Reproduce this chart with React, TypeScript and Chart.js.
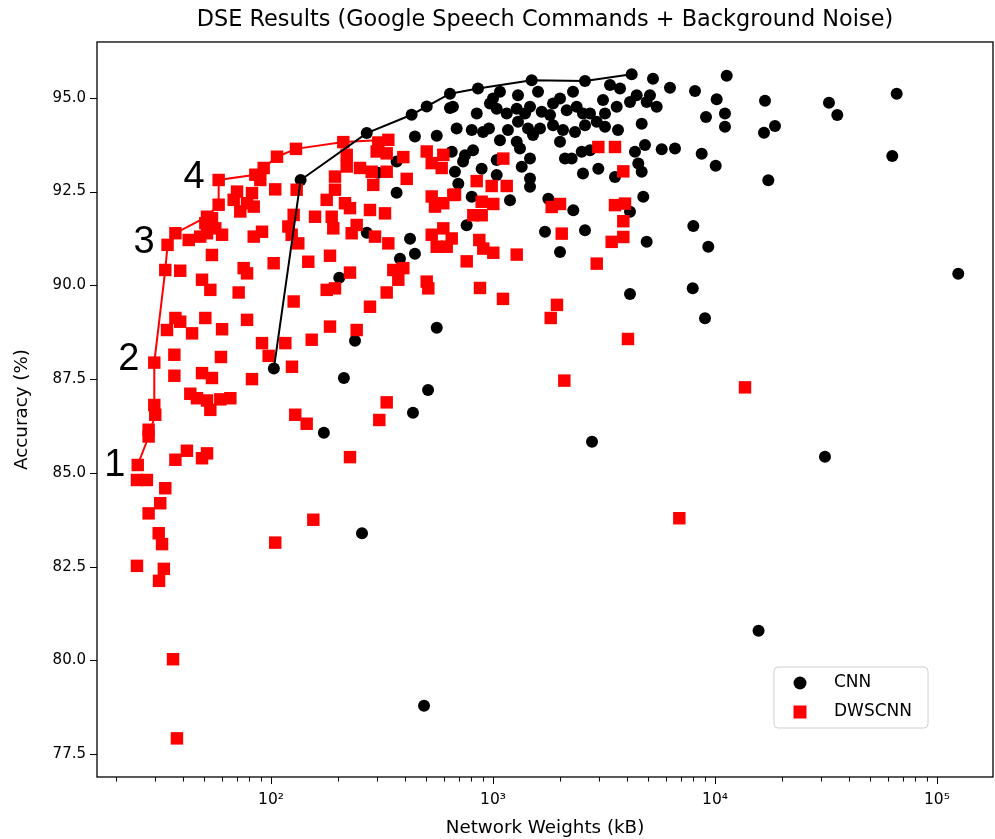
import React, { useEffect, useRef } from 'react';
import { Chart, registerables } from 'chart.js';

Chart.register(...registerables);

// ---- CNN (black circles) ----
const cnnWeights = [
  103, 136, 270, 430, 640, 856, 1494, 2597, 4215, 5257,
  6271, 8128, 11291, 10178, 16801, 32620, 65834, 35557, 9110, 11092,
  11092, 18634, 16627, 5754, 6605, 8711, 10074, 17384, 62889, 7987,
  9329, 7937, 9016, 124700, 31295, 15715,
  1075, 1000, 1296, 1595, 2004, 2293, 3365, 3734, 4439, 5095,
  4923, 5463, 4141, 3608, 3130, 2735, 3196, 2543, 2382, 2148,
  1864, 1807, 1657, 1468, 1394, 1279, 1153, 1039, 969, 845,
  660, 686, 802, 902, 959, 1168, 1296, 1438, 1628, 1864,
  2067, 2341, 2597, 2933, 3196, 3657, 4675, 1075, 1279, 1514,
  2004, 652, 748, 813, 1039, 1323, 1468, 1347, 2110, 2262,
  2509, 2735, 4361, 4838, 4514, 4675, 674, 889, 1039, 698,
  2543, 2982, 3544, 1468, 1468, 802, 1193, 1775, 2300, 4141,
  4753, 761, 1715, 2597, 2004, 4923, 4141,
  503, 640, 558, 445, 733, 368, 368, 270, 423, 445,
  381, 203, 558, 239, 303, 213, 510, 436, 173, 257,
  489, 2793,
];
const cnnAccuracy = [
  87.78, 92.81, 94.06, 94.55, 95.11, 95.25, 95.47, 95.45, 95.63, 95.51,
  95.27, 95.18, 95.59, 94.96, 94.92, 94.87, 95.11, 94.54, 94.49, 94.58,
  94.23, 94.25, 94.07, 93.63, 93.65, 93.51, 93.19, 92.80, 93.45, 91.58,
  91.03, 89.92, 89.12, 90.31, 85.43, 80.79,
  95.16, 94.98, 95.07, 95.16, 94.98, 95.16, 95.34, 95.25, 95.07, 95.07,
  94.89, 94.76, 94.89, 94.76, 94.94, 94.58, 94.58, 94.58, 94.76, 94.67,
  94.85, 94.54, 94.63, 94.76, 94.58, 94.71, 94.58, 94.71, 94.85, 94.58,
  94.76, 94.18, 94.14, 94.09, 94.18, 94.14, 94.36, 94.18, 94.18, 94.27,
  94.14, 94.09, 94.27, 94.36, 94.23, 94.14, 94.31, 93.87, 93.83, 94.01,
  93.83, 93.56, 93.47, 93.60, 93.34, 93.65, 93.38, 93.16, 93.38, 93.38,
  93.56, 93.60, 93.56, 93.74, 93.25, 93.03, 93.03, 93.11, 92.94, 92.71,
  92.98, 93.11, 92.89, 92.85, 92.63, 92.36, 92.27, 92.31, 92.00, 91.96,
  92.36, 91.60, 91.43, 91.47, 90.89, 91.16, 89.77,
  94.77, 94.73, 93.99, 93.97, 93.30, 93.30, 92.47, 91.40, 91.24, 90.84,
  90.71, 90.20, 88.87, 88.52, 93.00, 87.53, 87.21, 86.60, 86.07, 83.39,
  78.79, 85.83,
];

// ---- DWSCNN (red squares) ----
const dwsWeights = [
  25.1, 24.9, 27.6, 28.1, 28.1, 30.1, 29.8, 29.8, 33.4, 31.7,
  28.1, 31.2, 32.3, 24.9, 32.9, 31.3, 36.2, 37.7, 41.8, 37.1,
  48.9, 51.5, 36.7, 36.7, 48.9, 54.2, 59.5, 82.1, 91.1, 97.6,
  116.0, 124.3, 43.3, 46.4, 51.5, 53.3, 59.1, 65.6, 128.6, 104.5,
  106.4, 129.6, 92.7, 85.0, 58.1, 89.5, 104.5, 70.3, 82.1, 67.9,
  58.1, 78.0, 72.7, 83.6, 126.5, 51.5, 54.2, 50.6, 56.1, 51.5,
  60.2, 48.0, 37.1, 34.2, 42.6, 54.2, 83.6, 91.1, 75.3, 78.0,
  102.8, 33.4, 39.0, 48.9, 53.3, 71.5, 126.5, 37.1, 39.0, 34.0,
  44.1, 50.6, 60.2, 78.0, 211.7, 304.3, 337.7, 219.3, 299.3, 332.0,
  394.5, 502.8, 597.2, 219.3, 251.7, 284.2, 332.0, 529.6, 587.4, 194.2,
  288.9, 408.7, 130.5, 194.2, 178.2, 215.4, 226.9, 279.2, 326.2, 529.6,
  662.5, 548.0, 597.2, 157.9, 187.7, 190.8, 243.2, 230.9, 294.1, 337.7,
  529.6, 597.2, 557.8, 618.6, 119.7, 123.9, 132.7, 184.4, 147.2, 226.9,
  355.6, 394.5, 374.5, 502.8, 511.2, 178.2, 194.2, 332.0, 279.2, 184.4,
  243.2, 152.5, 332.0, 307.5, 144.8, 226.9, 155.1, 1113, 2982, 3544,
  3864, 844.5, 986.5, 1153, 674.3, 889.4, 1003, 815.3, 889.4, 1838,
  2004, 3544, 3932, 3864, 651.6, 867.6, 904.1, 1003, 1279, 2040,
  3425, 3864, 761.4, 2933, 873.8, 1109, 1942, 1820, 4056, 2096,
  6908, 13654,
];
const dwsAccuracy = [
  85.21, 84.81, 84.81, 85.97, 86.15, 86.55, 86.81, 87.94, 84.59, 84.19,
  83.92, 83.39, 83.10, 82.52, 82.44, 82.12, 80.03, 77.92, 85.59, 85.35,
  85.39, 85.52, 88.15, 87.59, 87.66, 87.53, 88.09, 87.50, 88.46, 88.12,
  88.46, 87.83, 87.11, 86.99, 86.93, 86.68, 86.96, 86.99, 86.55, 83.14,
  93.43, 93.64, 93.13, 92.95, 92.81, 92.81, 92.56, 92.50, 92.46, 92.28,
  92.15, 92.19, 91.97, 92.10, 91.88, 91.83, 91.79, 91.66, 91.52, 91.39,
  91.35, 91.30, 91.39, 91.08, 91.21, 90.81, 91.30, 91.43, 90.46, 90.32,
  90.59, 90.41, 90.39, 90.15, 89.88, 89.81, 89.57, 89.13, 89.03, 88.81,
  88.72, 89.13, 88.83, 89.08, 93.82, 93.81, 93.88, 93.48, 93.57, 93.52,
  93.42, 93.57, 93.48, 93.17, 93.13, 93.03, 93.03, 93.26, 93.13, 92.90,
  92.68, 92.84, 92.55, 92.55, 92.28, 92.19, 92.06, 92.01, 91.92, 92.37,
  92.41, 92.10, 92.19, 91.83, 91.83, 91.52, 91.61, 91.39, 91.30, 91.12,
  91.35, 91.52, 91.03, 91.03, 91.57, 91.35, 91.12, 90.79, 90.63, 90.34,
  90.41, 90.46, 90.15, 90.10, 89.92, 89.88, 89.92, 89.81, 89.43, 88.90,
  88.81, 88.55, 86.88, 86.41, 86.31, 85.42, 83.75, 93.38, 93.69, 93.69,
  93.04, 92.78, 92.65, 92.65, 92.42, 92.23, 92.17, 91.87, 91.87, 92.09,
  92.17, 92.14, 92.18, 91.71, 91.25, 91.21, 90.98, 90.87, 90.82, 91.38,
  91.16, 91.29, 90.64, 90.58, 89.93, 89.64, 89.48, 89.13, 88.57, 87.46,
  83.79, 87.28,
];

// ---- Pareto fronts ----
const cnnFrontWeights = [103, 136, 270, 430, 640, 856, 1494, 2597, 4215];
const cnnFrontAccuracy = [87.78, 92.81, 94.06, 94.55, 95.11, 95.25, 95.47, 95.45, 95.63];
const dwsFrontWeights = [25.1, 28.1, 30.1, 29.8, 29.8, 33.4, 34.2, 37.1, 51.5, 58.1, 58.1, 85.0, 92.7, 106.4, 129.6, 211.7, 337.7];
const dwsFrontAccuracy = [85.21, 85.97, 86.55, 86.81, 87.94, 90.41, 91.08, 91.39, 91.83, 92.15, 92.81, 92.95, 93.13, 93.43, 93.64, 93.82, 93.88];

// ---- annotations (front step numbers) ----
const stepLabels = ['1', '2', '3', '4'];
const stepWeights = [19.8, 22.9, 26.8, 45.0];
const stepAccuracy = [85.19, 88.01, 91.13, 92.87];

// ---- axes ----
const xTickValues = [
  20, 30, 40, 50, 60, 70, 80, 90,
  100, 200, 300, 400, 500, 600, 700, 800, 900,
  1000, 2000, 3000, 4000, 5000, 6000, 7000, 8000, 9000,
  10000, 20000, 30000, 40000, 50000, 60000, 70000, 80000, 90000,
  100000,
];
const xMajorTicks = [100, 1000, 10000, 100000];
const xTickLabels = ['10\u00B2', '10\u00B3', '10\u2074', '10\u2075'];
const yTickValues = [77.5, 80.0, 82.5, 85.0, 87.5, 90.0, 92.5, 95.0];
const X_MIN = 16.45;
const X_MAX = 178800;
const Y_MIN = 76.89;
const Y_MAX = 96.49;

const FONT = 'DejaVu Sans';

const decorPlugin = {
  id: 'decor',
  afterDraw(chart: any) {
    const { ctx, chartArea: a, scales } = chart;
    const xs = scales.x;
    const ys = scales.y;
    ctx.save();
    // frame
    ctx.strokeStyle = '#000';
    ctx.lineWidth = 1.3;
    ctx.strokeRect(a.left, a.top, a.right - a.left, a.bottom - a.top);
    // ticks
    ctx.lineWidth = 1;
    for (const v of xTickValues) {
      const px = Math.round(xs.getPixelForValue(v)) + 0.5;
      const major = xMajorTicks.includes(v);
      ctx.beginPath();
      ctx.moveTo(px, a.bottom);
      ctx.lineTo(px, a.bottom + (major ? 7 : 4.5));
      ctx.stroke();
    }
    for (const v of yTickValues) {
      const py = Math.round(ys.getPixelForValue(v)) + 0.5;
      ctx.beginPath();
      ctx.moveTo(a.left, py);
      ctx.lineTo(a.left - 7, py);
      ctx.stroke();
    }
    // step numbers
    ctx.fillStyle = '#000';
    ctx.font = '38px "Liberation Sans"';
    ctx.textAlign = 'center';
    ctx.textBaseline = 'middle';
    stepLabels.forEach((t, i) => {
      ctx.fillText(t, xs.getPixelForValue(stepWeights[i]), ys.getPixelForValue(stepAccuracy[i]));
    });
    // legend
    const bx = a.right - 219;
    const by = a.bottom - 110;
    const bw = 154;
    const bh = 61;
    const r = 4;
    ctx.beginPath();
    ctx.moveTo(bx + r, by);
    ctx.lineTo(bx + bw - r, by);
    ctx.quadraticCurveTo(bx + bw, by, bx + bw, by + r);
    ctx.lineTo(bx + bw, by + bh - r);
    ctx.quadraticCurveTo(bx + bw, by + bh, bx + bw - r, by + bh);
    ctx.lineTo(bx + r, by + bh);
    ctx.quadraticCurveTo(bx, by + bh, bx, by + bh - r);
    ctx.lineTo(bx, by + r);
    ctx.quadraticCurveTo(bx, by, bx + r, by);
    ctx.closePath();
    ctx.fillStyle = 'rgba(255,255,255,0.85)';
    ctx.fill();
    ctx.strokeStyle = '#d0d0d0';
    ctx.lineWidth = 1;
    ctx.stroke();
    ctx.fillStyle = '#000';
    ctx.beginPath();
    ctx.arc(bx + 26, by + 16, 6.5, 0, Math.PI * 2);
    ctx.fill();
    ctx.fillStyle = '#ff0000';
    ctx.fillRect(bx + 26 - 6.5, by + 45 - 6.5, 13, 13);
    ctx.fillStyle = '#000';
    ctx.font = `17px "${FONT}"`;
    ctx.textAlign = 'left';
    ctx.textBaseline = 'middle';
    ctx.fillText('CNN', bx + 60, by + 16);
    ctx.fillText('DWSCNN', bx + 60, by + 45);
    ctx.restore();
  },
};

export default function App() {
  const ref = useRef<HTMLCanvasElement | null>(null);

  useEffect(() => {
    if (!ref.current) return;
    const toPts = (xs: number[], ys: number[]) => xs.map((x, i) => ({ x, y: ys[i] }));
    const chart = new Chart(ref.current, {
      type: 'scatter',
      data: {
        datasets: [
          {
            label: 'CNN front',
            data: toPts(cnnFrontWeights, cnnFrontAccuracy),
            showLine: true,
            borderColor: '#000',
            borderWidth: 2,
            pointRadius: 0,
            fill: false,
            order: 0,
          },
          {
            label: 'DWSCNN front',
            data: toPts(dwsFrontWeights, dwsFrontAccuracy),
            showLine: true,
            borderColor: '#ff0000',
            borderWidth: 2,
            pointRadius: 0,
            fill: false,
            order: 1,
          },
          {
            label: 'DWSCNN',
            data: toPts(dwsWeights, dwsAccuracy),
            pointStyle: 'rect',
            pointRadius: 8.8,
            backgroundColor: '#ff0000',
            borderWidth: 0,
            order: 2,
          },
          {
            label: 'CNN',
            data: toPts(cnnWeights, cnnAccuracy),
            pointStyle: 'circle',
            pointRadius: 6,
            backgroundColor: '#000',
            borderWidth: 0,
            order: 3,
          },
        ],
      },
      options: {
        responsive: false,
        animation: false,
        events: [],
        layout: { autoPadding: false, padding: { left: 0, right: 2, top: 0, bottom: 0 } },
        plugins: {
          legend: { display: false },
          tooltip: { enabled: false },
          title: {
            display: true,
            text: 'DSE Results (Google Speech Commands + Background Noise)',
            fullSize: false,
            color: '#000',
            font: { family: FONT, size: 22.4, weight: 'normal' },
            padding: { top: 7, bottom: 8.1 },
          },
        },
        scales: {
          x: {
            type: 'logarithmic',
            min: X_MIN,
            max: X_MAX,
            afterBuildTicks: (s: any) => {
              s.ticks = xTickValues.map((v) => ({ value: v }));
            },
            afterFit: (s: any) => {
              s.height = 62;
            },
            grid: { display: false, drawTicks: false },
            border: { display: false },
            ticks: {
              autoSkip: false,
              maxRotation: 0,
              minRotation: 0,
              padding: 14,
              color: '#000',
              font: { family: FONT, size: 15.5 },
              callback: (v: any) => {
                const i = xMajorTicks.indexOf(Number(v));
                return i >= 0 ? xTickLabels[i] : '';
              },
            },
            title: {
              display: true,
              text: 'Network Weights (kB)',
              color: '#000',
              font: { family: FONT, size: 18.3 },
              padding: { top: 0, bottom: 0 },
            },
          },
          y: {
            type: 'linear',
            min: Y_MIN,
            max: Y_MAX,
            afterBuildTicks: (s: any) => {
              s.ticks = yTickValues.map((v) => ({ value: v }));
            },
            afterFit: (s: any) => {
              s.width = 97;
            },
            grid: { display: false, drawTicks: false },
            border: { display: false },
            ticks: {
              autoSkip: false,
              padding: 11,
              color: '#000',
              font: { family: FONT, size: 15 },
              callback: (v: any) => Number(v).toFixed(1),
            },
            title: {
              display: true,
              text: 'Accuracy (%)',
              color: '#000',
              font: { family: FONT, size: 18.3 },
              padding: { top: 11, bottom: 0 },
            },
          },
        },
      },
      plugins: [decorPlugin],
    } as any);
    return () => chart.destroy();
  }, []);

  return (
    <div style={{ position: 'absolute', left: 0, top: 0, width: 995, height: 839, background: '#fff' }}>
      <canvas ref={ref} width={995} height={839} style={{ display: 'block', width: '995px', height: '839px' }} />
    </div>
  );
}
